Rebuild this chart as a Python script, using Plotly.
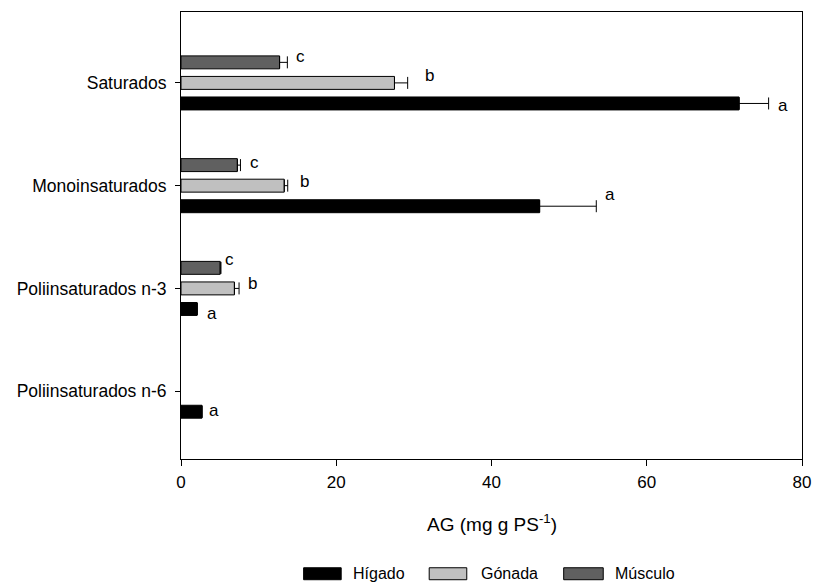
import plotly.graph_objects as go

# ---------------- data ----------------
categories = ["Saturados", "Monoinsaturados", "Poliinsaturados n-3", "Poliinsaturados n-6"]
series_names = ["Hígado", "Gónada", "Músculo"]

higado = [71.9, 46.2, 2.08, 2.7]
higado_err = [3.8, 7.3, 0.0, 0.0]
higado_letters = ["a", "a", "a", "a"]

gonada = [27.5, 13.3, 6.88, None]
gonada_err = [1.7, 0.45, 0.6, None]
gonada_letters = ["b", "b", "b", None]

musculo = [12.7, 7.26, 5.05, None]
musculo_err = [1.0, 0.4, 0.1, None]
musculo_letters = ["c", "c", "c", None]

x_ticks = [0, 20, 40, 60, 80]

# ---------------- style ----------------
FONT = "Liberation Sans, Arial, sans-serif"
colors = ["#000000", "#c0c0c0", "#606060"]
W, H = 822, 587
ML, MR, MT, MB = 181, 13, 11, 128
BARGAP = 0.4
# per-label pixel nudges (x, y) for the significance letters
letter_shift = {
    "Hígado": [(7, -2), (7, 12), (8, -5), (5, 1)],
    "Gónada": [(15, 7), (10, 4), (7, 5), None],
    "Músculo": [(7, 6), (8, 3), (2, 8), None],
}

ypos = [len(categories) - 1 - i for i in range(len(categories))]

fig = go.Figure()
all_vals = [higado, gonada, musculo]
all_err = [higado_err, gonada_err, musculo_err]
all_letters = [higado_letters, gonada_letters, musculo_letters]

for k, name in enumerate(series_names):
    fig.add_trace(go.Bar(
        y=ypos, x=all_vals[k], orientation="h", name=name,
        marker=dict(color=colors[k], line=dict(color="black", width=1)),
        error_x=dict(type="data", symmetric=False,
                     array=[e if e is not None else 0 for e in all_err[k]],
                     arrayminus=[0] * len(categories),
                     color="black", thickness=1, width=6),
        showlegend=False,
    ))

annotations = []
step = (1 - BARGAP) / len(series_names)
for k, name in enumerate(series_names):
    off = (k - (len(series_names) - 1) / 2) * step
    for i, cat in enumerate(categories):
        L = all_letters[k][i]
        if L is None:
            continue
        v = all_vals[k][i] + (all_err[k][i] or 0)
        dx, dy = letter_shift[name][i]
        annotations.append(dict(
            x=v, y=ypos[i] + off, xref="x", yref="y", text=L, showarrow=False,
            xanchor="left", yanchor="middle", xshift=dx, yshift=dy,
            font=dict(family=FONT, size=17, color="black"),
        ))

plot_w = W - ML - MR
plot_h = H - MT - MB


def px_x(p):
    return (p - ML) / plot_w


def px_y(p):
    return (H - MB - p) / plot_h


# x-axis title
annotations.append(dict(
    x=0.5, y=px_y(523), xref="paper", yref="paper", showarrow=False,
    text="AG (mg g PS<sup>-1</sup>)", xanchor="center", yanchor="middle",
    font=dict(family=FONT, size=19, color="black"),
))

# custom legend (wide swatches)
shapes = []
leg_sw = [(305, 343), (432, 470), (568, 608)]
leg_tx = [353, 482, 618]
for k, name in enumerate(series_names):
    x0, x1 = leg_sw[k]
    shapes.append(dict(type="rect", xref="paper", yref="paper",
                       x0=px_x(x0), x1=px_x(x1), y0=px_y(580), y1=px_y(568),
                       fillcolor=colors[k], line=dict(color="black", width=1)))
    annotations.append(dict(
        x=px_x(leg_tx[k]), y=px_y(574), xref="paper", yref="paper", showarrow=False,
        text=name, xanchor="left", yanchor="middle",
        font=dict(family=FONT, size=16, color="black"),
    ))

fig.update_layout(
    width=W, height=H,
    margin=dict(l=ML, r=MR, t=MT, b=MB, pad=0),
    paper_bgcolor="white", plot_bgcolor="white",
    barmode="group", bargap=BARGAP, bargroupgap=0.37,
    font=dict(family=FONT, size=17, color="black"),
    annotations=annotations, shapes=shapes,
    showlegend=False,
)
fig.update_xaxes(
    range=[0, 80], tickvals=x_ticks, ticks="outside", ticklen=6, tickcolor="black",
    showline=True, linecolor="black", linewidth=1, mirror=True,
    showgrid=False, zeroline=False, tickfont=dict(family=FONT, size=17),
    ticklabelstandoff=2,
)
fig.update_yaxes(
    range=[-0.66, 3.69], tickvals=ypos, ticktext=categories,
    ticks="outside", ticklen=5, tickcolor="black",
    showline=True, linecolor="black", linewidth=1, mirror=True,
    showgrid=False, zeroline=False, tickfont=dict(family=FONT, size=17.5),
    ticklabelstandoff=5,
)

fig.write_html("out.html")
